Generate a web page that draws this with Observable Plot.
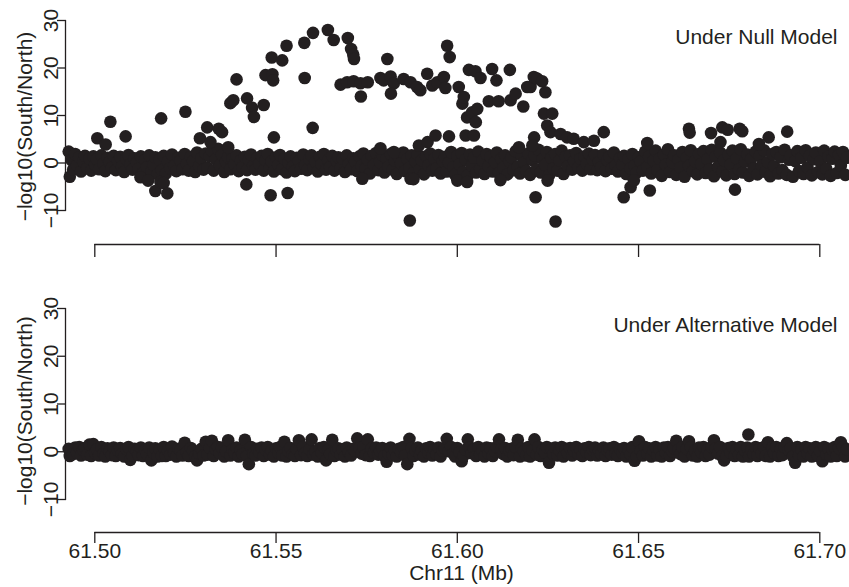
<!DOCTYPE html>
<html>
<head>
<meta charset="utf-8">
<script src="https://cdn.jsdelivr.net/npm/d3@7"></script>
<script src="https://cdn.jsdelivr.net/npm/@observablehq/plot@0.6"></script>
<style>
  html, body { margin: 0; padding: 0; background: #ffffff; }
  #chart { position: relative; width: 849px; height: 587px; overflow: hidden; background: #ffffff; }
  #chart > svg, #chart > figure { position: absolute; left: 0; margin: 0; }
</style>
</head>
<body>
<div id="chart"></div>
<script>
// ---------------- data ----------------
const xTicks = [61.50, 61.55, 61.60, 61.65, 61.70];
const yTicks = [-10, 0, 10, 20, 30];
const panelTitles = ["Under Null Model", "Under Alternative Model"];
const yLabel = "\u2212log10(South/North)";
const xLabel = "Chr11 (Mb)";

// background SNPs: [position (Mb), score under null, score under alternative]
const bandSnps = [
[61.4928,2.4,0.6],[61.4931,-2.9,-0.9],[61.4936,0.6,0.3],[61.4940,-1.4,-0.5],[61.4946,1.9,0.9],[61.4951,-0.5,-0.2],[61.4957,1.2,1.0],[61.4962,-1.8,-0.8],[61.4968,0.3,0.4],[61.4973,1.5,0.8],[61.4979,-1.1,-0.6],[61.4985,0.9,1.5],[61.4990,-1.6,-0.9],[61.4996,1.4,1.6],[61.5001,-0.4,-0.3],
[61.5006,0.8,0.5],[61.5012,-1.3,-0.8],[61.5018,1.6,1.0],[61.5024,-0.2,-0.4],[61.5029,-1.7,-1.0],[61.5035,1.1,0.7],[61.5041,0.2,0.1],[61.5047,-1.0,-0.7],[61.5052,1.5,0.9],[61.5058,-1.5,-0.9],
[61.5064,0.4,0.3],[61.5070,1.3,0.8],[61.5075,-0.8,-0.5],[61.5081,-1.9,-1.0],[61.5087,0.9,0.6],[61.5093,1.7,1.0],[61.5098,-0.3,-1.7],[61.5104,-1.4,-0.8],[61.5110,1.0,0.6],[61.5116,0.1,0.1],
[61.5121,-1.2,-0.7],[61.5127,1.4,0.9],[61.5133,-2.1,-0.9],[61.5139,0.6,0.4],[61.5144,-0.9,-0.5],[61.5150,1.6,0.9],[61.5156,-1.8,-1.8],[61.5162,-0.4,-0.2],[61.5167,1.2,0.7],[61.5173,-2.4,-1.0],
[61.5179,0.7,0.4],[61.5185,-1.5,-0.9],[61.5190,1.5,1.0],[61.5196,-2.2,-0.9],[61.5202,0.3,0.2],[61.5208,-1.1,-0.6],[61.5213,1.8,1.1],[61.5219,-0.6,-0.3],[61.5225,-1.7,-1.0],[61.5231,1.1,0.6],
[61.5236,0.5,0.3],[61.5242,-1.3,-0.8],[61.5248,1.9,1.9],[61.5254,-0.2,-0.1],[61.5259,-1.6,-0.9],[61.5265,1.3,0.8],[61.5271,0.4,0.2],[61.5277,-1.9,-1.0],[61.5282,2.2,-1.8],[61.5288,-0.7,-0.4],
[61.5294,1.0,0.6],[61.5300,-1.4,-0.8],
[61.5306,2.0,2.1],[61.5311,-1.0,-0.6],[61.5317,1.4,0.8],[61.5323,2.6,2.3],[61.5328,-1.6,-0.9],[61.5334,0.8,0.5],[61.5340,3.0,1.0],[61.5345,-0.5,-0.3],[61.5351,1.7,0.9],[61.5357,-1.9,-1.0],
[61.5362,0.2,0.1],[61.5368,1.2,2.4],[61.5374,-1.3,-0.8],[61.5380,0.9,0.5],[61.5385,-0.3,-0.2],[61.5391,1.6,0.9],[61.5397,-1.7,-1.0],[61.5403,0.5,0.3],[61.5408,-0.9,-0.5],[61.5414,1.3,2.5],
[61.5420,-1.5,-0.9],[61.5425,0.7,-2.6],[61.5431,1.8,1.0],[61.5437,-0.6,-0.4],[61.5443,-1.4,-0.8],[61.5448,1.0,0.6],
[61.5454,-0.2,-0.1],[61.5460,1.5,0.9],[61.5466,-1.6,-0.9],[61.5471,0.6,0.4],[61.5477,1.9,1.0],[61.5483,-1.0,-0.6],[61.5488,0.3,0.2],[61.5494,-1.8,-1.0],[61.5500,1.2,0.7],[61.5506,-0.4,-0.2],
[61.5511,1.7,1.0],[61.5517,-1.3,-0.8],[61.5523,0.9,2.1],[61.5529,-2.0,-1.0],[61.5534,0.1,0.1],[61.5540,1.4,0.8],[61.5546,-0.8,-0.5],[61.5552,-1.7,-0.9],[61.5557,1.1,0.6],[61.5563,0.4,2.4],
[61.5569,-1.2,-0.7],[61.5575,1.8,1.0],[61.5580,-0.5,-0.3],[61.5586,-1.5,-0.9],[61.5592,0.8,0.5],[61.5598,1.6,2.6],[61.5603,-1.0,-0.6],[61.5609,0.2,0.1],[61.5615,-1.8,-1.0],[61.5621,1.3,0.8],
[61.5626,-0.3,-0.2],[61.5632,1.9,1.0],[61.5638,-1.4,-1.8],[61.5644,0.6,0.4],[61.5649,-0.9,-0.5],[61.5655,1.5,2.5],[61.5661,-1.6,-0.9],[61.5667,0.4,0.2],[61.5672,1.2,0.7],[61.5678,-1.1,-0.6],
[61.5684,0.9,0.5],[61.5690,-1.9,-1.0],[61.5695,1.6,0.9],[61.5701,-0.2,-0.1],[61.5707,-1.3,-0.8],[61.5713,1.0,0.6],[61.5718,0.3,0.2],[61.5724,-1.7,2.8],[61.5730,1.4,0.8],[61.5736,-0.6,-0.4],[61.5741,2.0,1.0],[61.5747,-1.2,-0.7],
[61.5753,0.7,2.6],[61.5759,-2.2,-0.9],[61.5764,1.5,0.7],[61.5770,-0.4,-0.2],[61.5776,2.1,0.9],[61.5782,-1.5,-0.6],[61.5787,0.2,0.1],[61.5793,1.7,0.8],[61.5799,-2.0,-0.9],[61.5805,0.9,-2.1],
[61.5810,-0.8,-0.4],[61.5816,1.9,0.9],[61.5822,-1.4,-0.7],[61.5828,0.5,0.3],[61.5833,-2.3,-1.0],[61.5839,1.2,0.6],[61.5845,-0.1,-0.1],[61.5851,2.2,1.0],[61.5856,-1.7,-0.8],[61.5862,0.8,-2.6],
[61.5868,-1.0,2.7],[61.5874,1.6,0.8],[61.5879,-2.1,-0.9],[61.5885,0.3,0.2],[61.5891,1.8,0.9],[61.5897,-1.3,-0.6],[61.5902,0.6,0.3],[61.5908,-2.4,-1.0],[61.5914,1.4,0.7],[61.5920,-0.5,-0.2],
[61.5925,2.0,1.0],[61.5931,-1.6,-0.8],[61.5937,0.9,0.5],[61.5943,-1.1,-0.5],[61.5948,1.7,0.9],[61.5954,-2.2,-1.0],[61.5960,0.4,0.2],[61.5966,1.3,0.7],[61.5971,-1.8,2.7],[61.5977,0.1,0.1],
[61.5983,2.3,1.0],[61.5989,-0.9,-0.4],[61.5994,-2.5,-1.0],[61.6000,1.5,0.8],[61.6006,-0.3,-0.1],[61.6012,2.1,-2.0],[61.6017,-1.9,-0.9],[61.6023,0.7,0.4],[61.6029,-2.6,2.6],[61.6035,1.8,0.9],
[61.6040,-0.6,-0.3],[61.6046,1.1,0.6],[61.6052,-2.0,-0.9],[61.6058,2.4,1.0],[61.6063,-1.2,-0.6],[61.6069,0.5,0.3],[61.6075,-2.3,-1.0],[61.6081,1.9,0.9],[61.6086,-0.7,-0.4],[61.6092,1.3,0.7],
[61.6098,-1.8,-0.9],[61.6104,0.2,0.1],[61.6109,2.2,1.0],[61.6115,-2.1,2.6],[61.6121,0.9,0.5],[61.6127,-1.0,-0.5],[61.6132,1.6,0.8],[61.6138,-2.4,-1.0],[61.6144,0.4,0.2],[61.6150,1.2,0.6],
[61.6155,-1.5,-0.7],[61.6161,2.5,1.0],[61.6167,-0.8,2.5],[61.6173,-2.2,-1.0],[61.6178,1.4,0.7],[61.6184,0.1,0.1],[61.6190,-1.7,-0.8],[61.6196,2.0,1.0],[61.6201,-2.5,-1.0],[61.6207,0.6,0.3],
[61.6213,1.7,2.6],[61.6219,-1.3,-0.6],[61.6224,2.8,1.0],[61.6230,-2.0,-0.9],[61.6236,0.8,0.4],[61.6242,-0.4,-0.2],[61.6247,2.3,1.0],[61.6253,-2.6,-2.3],[61.6259,1.1,0.6],[61.6265,-1.1,-0.5],
[61.6270,1.9,0.9],[61.6276,-1.6,-0.8],[61.6282,0.5,0.3],[61.6288,2.6,1.0],[61.6293,-2.3,-1.0],[61.6299,1.3,0.6],
[61.6305,-0.7,-0.3],[61.6311,1.6,0.8],[61.6317,-1.4,-0.8],[61.6322,0.4,0.2],[61.6328,2.1,1.0],[61.6334,-1.0,-0.5],[61.6340,0.9,0.5],[61.6345,-1.6,-0.9],[61.6351,1.4,0.7],[61.6357,-0.2,-0.1],
[61.6363,2.0,1.0],[61.6368,-1.3,-0.7],[61.6374,0.7,0.4],[61.6380,1.7,0.9],[61.6386,-1.5,-0.8],[61.6391,0.2,0.1],[61.6397,-0.9,-0.5],[61.6403,1.8,0.9],[61.6409,-1.7,-0.9],[61.6414,0.6,0.3],
[61.6420,1.3,0.7],[61.6426,-1.2,-0.6],[61.6432,2.2,1.0],[61.6437,-0.5,-0.3],[61.6443,-1.8,-0.9],[61.6449,1.0,0.5],[61.6455,-0.3,-0.2],[61.6460,1.5,0.8],[61.6466,-2.3,-1.0],[61.6472,0.8,0.4],
[61.6478,-1.1,-0.6],[61.6483,1.9,1.0],[61.6489,-0.6,-1.9],[61.6495,-2.0,-1.0],[61.6501,1.2,2.2],[61.6506,0.3,0.2],[61.6512,-1.6,-0.8],[61.6518,2.4,1.0],[61.6524,-0.8,-0.4],
[61.6529,1.3,0.7],[61.6535,-2.2,-1.0],[61.6541,0.5,0.3],[61.6547,2.6,1.0],[61.6552,-1.5,-0.8],[61.6558,0.9,0.5],[61.6564,-2.7,-1.0],[61.6570,1.8,0.9],[61.6575,-0.4,-0.2],[61.6581,2.9,1.0],
[61.6587,-1.9,-0.9],[61.6593,0.2,0.1],[61.6598,1.6,0.8],[61.6604,-2.5,2.3],[61.6610,0.7,0.4],[61.6616,-1.0,-0.5],[61.6621,2.3,1.0],[61.6627,-2.9,-1.0],[61.6633,1.1,0.6],[61.6639,-0.6,2.2],
[61.6644,2.7,1.0],[61.6650,-1.7,-0.8],[61.6656,0.4,0.2],[61.6662,-2.4,-1.0],[61.6667,1.9,0.9],[61.6673,-0.2,-0.1],[61.6679,2.5,1.0],[61.6685,-2.1,-0.9],[61.6690,0.8,0.4],[61.6696,-1.3,-0.6],
[61.6702,2.8,1.0],[61.6708,-2.8,2.4],[61.6713,1.4,0.7],[61.6719,-0.8,-0.4],[61.6725,2.2,1.0],[61.6731,-1.8,-0.9],[61.6736,0.6,-1.8],[61.6742,-2.6,-1.0],[61.6748,1.7,0.8],[61.6754,-0.3,-0.2],
[61.6759,2.6,1.0],[61.6765,-2.3,-0.9],[61.6771,1.0,0.5],[61.6777,-1.4,-0.7],[61.6782,2.9,1.0],[61.6788,-2.0,-1.0],[61.6794,0.3,0.2],[61.6800,1.8,0.9],[61.6805,-2.7,-1.0],[61.6811,0.9,0.4],
[61.6817,-1.1,-0.5],[61.6823,2.4,1.0],[61.6828,-2.4,-0.9],[61.6834,1.5,0.7],[61.6840,-0.5,-0.3],[61.6846,2.7,1.0],[61.6851,-1.9,-0.9],[61.6857,0.2,2.0],[61.6863,-2.8,-1.0],[61.6869,1.9,0.9],
[61.6874,-0.7,-0.3],[61.6880,2.3,1.0],[61.6886,-2.2,-0.9],[61.6892,1.2,0.6],[61.6897,-1.5,-0.7],[61.6903,2.8,1.0],[61.6909,-2.5,1.8],[61.6915,0.7,0.3],[61.6920,1.6,0.8],[61.6926,-2.9,-1.0],
[61.6932,0.4,-2.3],[61.6938,2.5,1.0],[61.6943,-1.7,-0.8],[61.6949,1.1,0.5],[61.6955,-2.3,-1.0],[61.6961,2.7,1.0],[61.6966,-0.9,-0.4],[61.6972,1.5,0.7],[61.6978,-2.6,-1.0],[61.6984,0.8,0.4],
[61.6989,2.2,1.0],[61.6995,-1.9,-0.9],[61.7001,0.3,0.1],[61.7007,-2.4,-2.0],[61.7012,2.6,1.0],[61.7018,-1.2,-0.6],[61.7024,1.3,0.6],[61.7030,-2.7,-1.0],[61.7035,0.9,0.4],[61.7041,2.4,1.0],
[61.7047,-2.1,-0.9],[61.7053,1.7,0.8],[61.7058,-0.6,2.0],[61.7064,2.3,1.0],[61.7070,-2.5,-1.0],[61.7075,1.1,0.5]
];

// SNPs standing out under the null model: [position (Mb), score]
const nullSignal = [
[61.5007,5.2],[61.5030,3.9],[61.5043,8.7],[61.5085,5.6],[61.5183,9.4],[61.5250,10.8],[61.5290,5.2],[61.5310,7.5],[61.5319,4.4],[61.5342,7.2],[61.5351,6.5],[61.5368,3.3],
[61.5374,12.6],[61.5382,13.2],[61.5391,17.6],[61.5420,13.6],[61.5434,11.6],[61.5439,9.7],[61.5466,12.2],[61.5471,18.5],[61.5490,18.7],[61.5492,17.4],[61.5488,22.2],[61.5517,21.6],[61.5529,24.7],[61.5494,5.4],
[61.5578,25.3],[61.5579,17.9],[61.5602,27.4],[61.5601,7.4],[61.5643,28.0],[61.5659,25.9],[61.5698,26.3],[61.5707,24.0],[61.5713,22.8],[61.5715,21.9],
[61.5678,16.5],[61.5696,17.0],[61.5714,17.2],[61.5733,16.8],[61.5734,14.0],[61.5753,17.0],[61.5788,17.9],[61.5797,17.4],[61.5807,21.9],[61.5816,18.2],[61.5825,16.8],[61.5817,14.6],
[61.5852,17.7],[61.5871,17.0],[61.5889,16.0],[61.5898,15.3],[61.5917,18.8],[61.5931,16.3],[61.5945,17.0],[61.5963,18.1],[61.5967,15.8],[61.5972,24.7],[61.5979,22.3],
[61.6004,16.0],[61.6014,12.5],[61.6018,13.9],[61.6032,19.6],[61.6050,19.3],[61.6064,17.9],[61.6096,19.8],[61.6108,17.4],[61.6145,19.6],[61.6087,13.0],[61.6114,13.0],[61.6147,13.2],[61.6161,14.6],[61.6182,11.9],
[61.6193,16.0],[61.6202,16.0],[61.6211,18.1],[61.6220,17.8],[61.6234,17.2],[61.6243,14.9],[61.6239,10.4],[61.6262,10.4],[61.6248,7.9],[61.6257,6.5],[61.6212,5.4],[61.6207,3.7],[61.6170,3.3],[61.6285,6.1],[61.6303,5.4],[61.6321,5.1],
[61.6027,9.6],[61.6041,10.7],[61.6051,8.6],[61.6055,11.4],[61.5894,3.7],[61.5918,4.4],[61.5940,5.8],[61.5977,5.6],[61.6023,5.8],[61.6046,5.8],[61.5788,3.1],[61.5825,2.3],
[61.6349,4.4],[61.6377,4.7],[61.6404,6.5],[61.6524,4.2],[61.6639,7.2],[61.6641,6.4],[61.6700,6.3],[61.6726,4.4],[61.6731,7.5],[61.6746,7.0],[61.6779,7.2],[61.6786,6.7],[61.6832,4.0],[61.6859,5.4],[61.6910,6.6],
[61.5126,-3.0],[61.5147,-3.7],[61.5167,-5.9],[61.5181,-4.0],[61.5190,-4.2],[61.5200,-6.4],[61.5418,-4.5],[61.5485,-6.8],[61.5532,-6.3],[61.5738,-3.3],[61.5869,-12.1],[61.5871,-3.3],[61.5879,-3.4],
[61.6000,-3.7],[61.6027,-4.0],[61.6119,-3.6],[61.6216,-7.2],[61.6249,-3.7],[61.6271,-12.3],[61.6459,-7.2],[61.6478,-5.1],[61.6487,-3.7],[61.6531,-5.8],[61.6766,-5.6]
];

// SNPs standing out under the alternative model: [position (Mb), score]
const altSignal = [[61.6803,3.6]];

// ---------------- drawing ----------------
const INK = "#231f20";
const FONT = "'Liberation Sans', Arial, Helvetica, sans-serif";
const FS = 21;

const nullPoints = bandSnps.map(d => [d[0], d[1]]).concat(nullSignal);
const altPoints = bandSnps.map(d => [d[0], d[2]]).concat(altSignal);

function panel({points, title, height, marginTop, marginBottom, axisDy, tickLen, showTickLabels, xTitle, labelDy}) {
  const marks = [
    Plot.frame({anchor: "left", stroke: INK, strokeWidth: 1.3}),
    Plot.axisY({ticks: yTicks, tickSize: 8, tickPadding: 0, tickRotate: -90, fontSize: FS, label: null, strokeWidth: 1.3}),
    Plot.ruleY([yTicks[0]], {x1: xTicks[0], x2: xTicks[xTicks.length - 1], dy: axisDy, stroke: INK, strokeWidth: 1.3}),
    Plot.axisX({ticks: xTicks, tickSize: tickLen, dy: axisDy, tickPadding: 0, label: null,
      tickFormat: showTickLabels ? d3.format(".2f") : () => "", fontSize: FS, strokeWidth: 1.3}),
    Plot.dot(points, {x: d => d[0], y: d => d[1], r: 6.3, fill: INK}),
    Plot.text([title], {frameAnchor: "top-right", textAnchor: "end", lineAnchor: "middle", dx: -12, dy: 17, fontSize: FS, fill: INK}),
    Plot.text([yLabel], {frameAnchor: "left", rotate: -90, dx: -40, dy: labelDy, textAnchor: "middle", lineAnchor: "middle", fontSize: FS, fill: INK})
  ];
  if (xTitle) marks.push(Plot.text([xTitle], {frameAnchor: "bottom", dx: 4, dy: 74, lineAnchor: "middle", fontSize: FS, fill: INK}));
  return Plot.plot({
    width: 849, height,
    marginLeft: 65, marginRight: 0, marginTop, marginBottom,
    style: {fontFamily: FONT, fontSize: FS + "px", color: INK, background: "transparent", overflow: "visible"},
    x: {domain: [xTicks[0], xTicks[xTicks.length - 1]], range: [94.3, 819.3]},
    y: {domain: [yTicks[0], yTicks[yTicks.length - 1]]},
    marks
  });
}

const chart = document.getElementById("chart");
const top1 = panel({points: nullPoints, title: panelTitles[0], height: 270, marginTop: 20, marginBottom: 60,
  axisDy: 34, tickLen: 13, showTickLabels: false, xTitle: null, labelDy: 11});
top1.style.top = "0px";
chart.appendChild(top1);
const bottom1 = panel({points: altPoints, title: panelTitles[1], height: 317, marginTop: 38, marginBottom: 88,
  axisDy: 33, tickLen: 11, showTickLabels: true, xTitle: xLabel, labelDy: 7});
bottom1.style.top = "270px";
chart.appendChild(bottom1);
</script>
</body>
</html>
